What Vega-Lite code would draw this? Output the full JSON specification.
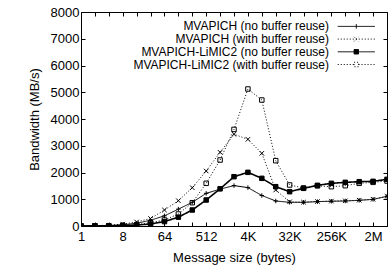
{
  "$schema": "https://vega.github.io/schema/vega-lite/v6.json",
  "width": 306,
  "height": 214,
  "autosize": {"type": "none"},
  "padding": {"left": 81, "top": 12, "right": 1, "bottom": 42},
  "config": {
    "view": {"stroke": "black", "strokeWidth": 1},
    "font": "Liberation Sans",
    "axis": {"labelFont": "Liberation Sans", "labelFontSize": 13, "labelColor": "black", "titleFont": "Liberation Sans", "titleFontSize": 13, "titleFontWeight": "normal", "titleColor": "black", "tickColor": "black", "grid": false, "domain": false, "labelFlush": false, "labelOverlap": false}
  },
  "datasets": {
    "bw": [
      {"s": "MVAPICH (no buffer reuse)", "bytes": 1, "mbs": 5},
      {"s": "MVAPICH (no buffer reuse)", "bytes": 2, "mbs": 10},
      {"s": "MVAPICH (no buffer reuse)", "bytes": 4, "mbs": 20},
      {"s": "MVAPICH (no buffer reuse)", "bytes": 8, "mbs": 45},
      {"s": "MVAPICH (no buffer reuse)", "bytes": 16, "mbs": 100},
      {"s": "MVAPICH (no buffer reuse)", "bytes": 32, "mbs": 215},
      {"s": "MVAPICH (no buffer reuse)", "bytes": 64, "mbs": 380},
      {"s": "MVAPICH (no buffer reuse)", "bytes": 128, "mbs": 630},
      {"s": "MVAPICH (no buffer reuse)", "bytes": 256, "mbs": 885},
      {"s": "MVAPICH (no buffer reuse)", "bytes": 512, "mbs": 1220},
      {"s": "MVAPICH (no buffer reuse)", "bytes": 1024, "mbs": 1380},
      {"s": "MVAPICH (no buffer reuse)", "bytes": 2048, "mbs": 1510},
      {"s": "MVAPICH (no buffer reuse)", "bytes": 4096, "mbs": 1435},
      {"s": "MVAPICH (no buffer reuse)", "bytes": 8192, "mbs": 1140},
      {"s": "MVAPICH (no buffer reuse)", "bytes": 16384, "mbs": 935},
      {"s": "MVAPICH (no buffer reuse)", "bytes": 32768, "mbs": 885},
      {"s": "MVAPICH (no buffer reuse)", "bytes": 65536, "mbs": 885},
      {"s": "MVAPICH (no buffer reuse)", "bytes": 131072, "mbs": 910},
      {"s": "MVAPICH (no buffer reuse)", "bytes": 262144, "mbs": 925},
      {"s": "MVAPICH (no buffer reuse)", "bytes": 524288, "mbs": 935},
      {"s": "MVAPICH (no buffer reuse)", "bytes": 1048576, "mbs": 960},
      {"s": "MVAPICH (no buffer reuse)", "bytes": 2097152, "mbs": 995},
      {"s": "MVAPICH (no buffer reuse)", "bytes": 4194304, "mbs": 1110},
      {"s": "MVAPICH (with buffer reuse)", "bytes": 1, "mbs": 5},
      {"s": "MVAPICH (with buffer reuse)", "bytes": 2, "mbs": 12},
      {"s": "MVAPICH (with buffer reuse)", "bytes": 4, "mbs": 30},
      {"s": "MVAPICH (with buffer reuse)", "bytes": 8, "mbs": 70},
      {"s": "MVAPICH (with buffer reuse)", "bytes": 16, "mbs": 150},
      {"s": "MVAPICH (with buffer reuse)", "bytes": 32, "mbs": 280},
      {"s": "MVAPICH (with buffer reuse)", "bytes": 64, "mbs": 598},
      {"s": "MVAPICH (with buffer reuse)", "bytes": 128, "mbs": 946},
      {"s": "MVAPICH (with buffer reuse)", "bytes": 256, "mbs": 1432},
      {"s": "MVAPICH (with buffer reuse)", "bytes": 512, "mbs": 2056},
      {"s": "MVAPICH (with buffer reuse)", "bytes": 1024, "mbs": 2755},
      {"s": "MVAPICH (with buffer reuse)", "bytes": 2048, "mbs": 3430},
      {"s": "MVAPICH (with buffer reuse)", "bytes": 4096, "mbs": 3240},
      {"s": "MVAPICH (with buffer reuse)", "bytes": 8192, "mbs": 2717},
      {"s": "MVAPICH (with buffer reuse)", "bytes": 16384, "mbs": 1346},
      {"s": "MVAPICH (with buffer reuse)", "bytes": 32768, "mbs": 905},
      {"s": "MVAPICH (with buffer reuse)", "bytes": 65536, "mbs": 890},
      {"s": "MVAPICH (with buffer reuse)", "bytes": 131072, "mbs": 915},
      {"s": "MVAPICH (with buffer reuse)", "bytes": 262144, "mbs": 930},
      {"s": "MVAPICH (with buffer reuse)", "bytes": 524288, "mbs": 940},
      {"s": "MVAPICH (with buffer reuse)", "bytes": 1048576, "mbs": 965},
      {"s": "MVAPICH (with buffer reuse)", "bytes": 2097152, "mbs": 1000},
      {"s": "MVAPICH (with buffer reuse)", "bytes": 4194304, "mbs": 1110},
      {"s": "MVAPICH-LiMIC2 (no buffer reuse)", "bytes": 1, "mbs": 2},
      {"s": "MVAPICH-LiMIC2 (no buffer reuse)", "bytes": 2, "mbs": 4},
      {"s": "MVAPICH-LiMIC2 (no buffer reuse)", "bytes": 4, "mbs": 8},
      {"s": "MVAPICH-LiMIC2 (no buffer reuse)", "bytes": 8, "mbs": 15},
      {"s": "MVAPICH-LiMIC2 (no buffer reuse)", "bytes": 16, "mbs": 35},
      {"s": "MVAPICH-LiMIC2 (no buffer reuse)", "bytes": 32, "mbs": 75},
      {"s": "MVAPICH-LiMIC2 (no buffer reuse)", "bytes": 64, "mbs": 165},
      {"s": "MVAPICH-LiMIC2 (no buffer reuse)", "bytes": 128, "mbs": 330},
      {"s": "MVAPICH-LiMIC2 (no buffer reuse)", "bytes": 256, "mbs": 598},
      {"s": "MVAPICH-LiMIC2 (no buffer reuse)", "bytes": 512, "mbs": 972},
      {"s": "MVAPICH-LiMIC2 (no buffer reuse)", "bytes": 1024, "mbs": 1390},
      {"s": "MVAPICH-LiMIC2 (no buffer reuse)", "bytes": 2048, "mbs": 1843},
      {"s": "MVAPICH-LiMIC2 (no buffer reuse)", "bytes": 4096, "mbs": 2006},
      {"s": "MVAPICH-LiMIC2 (no buffer reuse)", "bytes": 8192, "mbs": 1782},
      {"s": "MVAPICH-LiMIC2 (no buffer reuse)", "bytes": 16384, "mbs": 1470},
      {"s": "MVAPICH-LiMIC2 (no buffer reuse)", "bytes": 32768, "mbs": 1283},
      {"s": "MVAPICH-LiMIC2 (no buffer reuse)", "bytes": 65536, "mbs": 1408},
      {"s": "MVAPICH-LiMIC2 (no buffer reuse)", "bytes": 131072, "mbs": 1520},
      {"s": "MVAPICH-LiMIC2 (no buffer reuse)", "bytes": 262144, "mbs": 1595},
      {"s": "MVAPICH-LiMIC2 (no buffer reuse)", "bytes": 524288, "mbs": 1632},
      {"s": "MVAPICH-LiMIC2 (no buffer reuse)", "bytes": 1048576, "mbs": 1657},
      {"s": "MVAPICH-LiMIC2 (no buffer reuse)", "bytes": 2097152, "mbs": 1670},
      {"s": "MVAPICH-LiMIC2 (no buffer reuse)", "bytes": 4194304, "mbs": 1745},
      {"s": "MVAPICH-LiMIC2 (with buffer reuse)", "bytes": 1, "mbs": 2},
      {"s": "MVAPICH-LiMIC2 (with buffer reuse)", "bytes": 2, "mbs": 5},
      {"s": "MVAPICH-LiMIC2 (with buffer reuse)", "bytes": 4, "mbs": 10},
      {"s": "MVAPICH-LiMIC2 (with buffer reuse)", "bytes": 8, "mbs": 20},
      {"s": "MVAPICH-LiMIC2 (with buffer reuse)", "bytes": 16, "mbs": 45},
      {"s": "MVAPICH-LiMIC2 (with buffer reuse)", "bytes": 32, "mbs": 125},
      {"s": "MVAPICH-LiMIC2 (with buffer reuse)", "bytes": 64, "mbs": 224},
      {"s": "MVAPICH-LiMIC2 (with buffer reuse)", "bytes": 128, "mbs": 449},
      {"s": "MVAPICH-LiMIC2 (with buffer reuse)", "bytes": 256, "mbs": 871},
      {"s": "MVAPICH-LiMIC2 (with buffer reuse)", "bytes": 512, "mbs": 1596},
      {"s": "MVAPICH-LiMIC2 (with buffer reuse)", "bytes": 1024, "mbs": 2467},
      {"s": "MVAPICH-LiMIC2 (with buffer reuse)", "bytes": 2048, "mbs": 3610},
      {"s": "MVAPICH-LiMIC2 (with buffer reuse)", "bytes": 4096, "mbs": 5121},
      {"s": "MVAPICH-LiMIC2 (with buffer reuse)", "bytes": 8192, "mbs": 4710},
      {"s": "MVAPICH-LiMIC2 (with buffer reuse)", "bytes": 16384, "mbs": 2442},
      {"s": "MVAPICH-LiMIC2 (with buffer reuse)", "bytes": 32768, "mbs": 1533},
      {"s": "MVAPICH-LiMIC2 (with buffer reuse)", "bytes": 65536, "mbs": 1420},
      {"s": "MVAPICH-LiMIC2 (with buffer reuse)", "bytes": 131072, "mbs": 1500},
      {"s": "MVAPICH-LiMIC2 (with buffer reuse)", "bytes": 262144, "mbs": 1470},
      {"s": "MVAPICH-LiMIC2 (with buffer reuse)", "bytes": 524288, "mbs": 1507},
      {"s": "MVAPICH-LiMIC2 (with buffer reuse)", "bytes": 1048576, "mbs": 1595},
      {"s": "MVAPICH-LiMIC2 (with buffer reuse)", "bytes": 2097152, "mbs": 1632},
      {"s": "MVAPICH-LiMIC2 (with buffer reuse)", "bytes": 4194304, "mbs": 1680}
    ]
  },
  "data": {"name": "bw"},
  "resolve": {"axis": {"x": "independent", "y": "independent"}},
  "layer": [
    {
      "mark": {"type": "line", "clip": true, "color": "black"},
      "encoding": {
        "x": {"field": "bytes", "type": "quantitative",
          "scale": {"type": "log", "base": 2, "domain": [1, 4194304], "nice": false},
          "axis": {"orient": "bottom", "title": "Message size (bytes)", "tickSize": -4, "labelPadding": 8, "titlePadding": 8,
            "values": [1,2,4,8,16,32,64,128,256,512,1024,2048,4096,8192,16384,32768,65536,131072,262144,524288,1048576,2097152,4194304],
            "labelExpr": "round(log(datum.value)/LN2) % 3 == 0 ? (datum.value >= 1048576 ? (datum.value/1048576) + 'M' : (datum.value >= 1024 ? (datum.value/1024) + 'K' : '' + datum.value)) : ''"}},
        "y": {"field": "mbs", "type": "quantitative",
          "scale": {"domain": [0, 8000], "nice": false},
          "axis": {"orient": "left", "title": "Bandwidth (MB/s)", "format": "d", "tickSize": -4, "labelPadding": 6, "titlePadding": 9,
            "values": [0,1000,2000,3000,4000,5000,6000,7000,8000]}},
        "detail": {"field": "s", "type": "nominal"},
        "strokeDash": {"condition": {"test": "indexof(datum.s, 'with') >= 0", "value": [1, 2]}, "value": [1, 0]},
        "strokeWidth": {"condition": {"test": "datum.s === 'MVAPICH-LiMIC2 (no buffer reuse)'", "value": 1.6}, "value": 1}
      }
    },
    {
      "mark": {"type": "point", "clip": true, "filled": false, "size": 20, "strokeWidth": 1, "opacity": 1, "color": "black"},
      "encoding": {
        "x": {"field": "bytes", "type": "quantitative",
          "scale": {"type": "log", "base": 2, "domain": [1, 4194304], "nice": false},
          "axis": {"orient": "top", "title": null, "labels": false, "tickSize": -4,
            "values": [1,2,4,8,16,32,64,128,256,512,1024,2048,4096,8192,16384,32768,65536,131072,262144,524288,1048576,2097152,4194304]}},
        "y": {"field": "mbs", "type": "quantitative",
          "scale": {"domain": [0, 8000], "nice": false},
          "axis": {"orient": "right", "title": null, "labels": false, "tickSize": -4,
            "values": [0,1000,2000,3000,4000,5000,6000,7000,8000]}},
        "shape": {"condition": [
            {"test": "datum.s === 'MVAPICH (no buffer reuse)'", "value": "M-1,0H1M0,-1V1"},
            {"test": "datum.s === 'MVAPICH (with buffer reuse)'", "value": "M-1,-1L1,1M-1,1L1,-1"}
          ], "value": "M-1,-1H1V1H-1Z"},
        "fill": {"condition": {"test": "datum.s === 'MVAPICH-LiMIC2 (no buffer reuse)'", "value": "black"}, "value": "transparent"}
      }
    },
    {
      "mark": {"type": "point", "filled": false, "size": 20, "opacity": 0, "color": "black"},
      "encoding": {
        "shape": {"field": "s", "type": "nominal",
          "scale": {"domain": ["MVAPICH (no buffer reuse)", "MVAPICH (with buffer reuse)", "MVAPICH-LiMIC2 (no buffer reuse)", "MVAPICH-LiMIC2 (with buffer reuse)"],
            "range": ["M-8.3,0H8.3M0,-1V1", "M-8.3,0H8.3M-1,-1L1,1M-1,1L1,-1", "M-8.3,0H-1M1,0H8.3M-1,-1H1V1H-1Z", "M-8.3,0H-1M1,0H8.3M-1,-1H1V1H-1Z"]},
          "legend": {
            "orient": "none", "legendX": 269.3, "legendY": 8.4, "title": null, "padding": 0,
            "labelFont": "Liberation Sans", "labelFontSize": 12, "labelColor": "black", "labelLimit": 400,
            "labelAlign": "right", "labelOffset": -33.3, "symbolSize": 20, "rowPadding": 0.7,
            "symbolStrokeColor": "black", "symbolOpacity": 1
          }},
        "stroke": {"field": "s", "type": "nominal",
          "scale": {"domain": ["MVAPICH (no buffer reuse)", "MVAPICH (with buffer reuse)", "MVAPICH-LiMIC2 (no buffer reuse)", "MVAPICH-LiMIC2 (with buffer reuse)"],
            "range": ["black", "black", "black", "black"]}},
        "fill": {"field": "s", "type": "nominal",
          "scale": {"domain": ["MVAPICH (no buffer reuse)", "MVAPICH (with buffer reuse)", "MVAPICH-LiMIC2 (no buffer reuse)", "MVAPICH-LiMIC2 (with buffer reuse)"],
            "range": ["transparent", "transparent", "black", "transparent"]}},
        "strokeDash": {"field": "s", "type": "nominal",
          "scale": {"domain": ["MVAPICH (no buffer reuse)", "MVAPICH (with buffer reuse)", "MVAPICH-LiMIC2 (no buffer reuse)", "MVAPICH-LiMIC2 (with buffer reuse)"],
            "range": [[1, 0], [1, 2], [1, 0], [1, 2]]}},
        "strokeWidth": {"field": "s", "type": "ordinal",
          "scale": {"domain": ["MVAPICH (no buffer reuse)", "MVAPICH (with buffer reuse)", "MVAPICH-LiMIC2 (no buffer reuse)", "MVAPICH-LiMIC2 (with buffer reuse)"],
            "range": [1, 1, 1.6, 1]}}
      }
    }
  ]
}
